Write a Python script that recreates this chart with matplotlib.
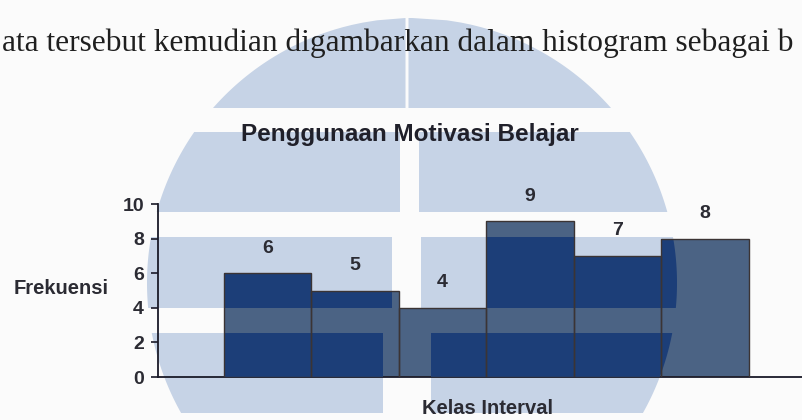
import numpy as np
import matplotlib
matplotlib.use("Agg")
import matplotlib.pyplot as plt
from matplotlib.path import Path
from matplotlib.patches import PathPatch
from matplotlib.transforms import Affine2D

# data
freq = [6, 5, 4, 9, 7, 8]
pos = list(range(len(freq)))
yticks = [0, 2, 4, 6, 8, 10]

W, H = 803, 420
fig = plt.figure(figsize=(W / 100, H / 100), dpi=100)
fig.patch.set_facecolor("#fbfbfb")

# pixel coords, y pointing down
pix = Affine2D().scale(1 / W, -1 / H).translate(0, 1) + fig.transFigure

# watermark (logo in the scanned page): circle cut by white bands
cx, cy, r = 412, 283, 265
segs = [(18, 108, 405.5, 408.5), (132, 212, 400, 419),
        (237, 308, 392, 421), (333, 413, 383, 431)]
polys = []
for y0, y1, gl, gr in segs:
    ys = np.linspace(y0, y1, 40)
    dx = np.sqrt(np.clip(r ** 2 - (ys - cy) ** 2, 0, None))
    xl = np.minimum(cx - dx, gl)
    xr = np.maximum(cx + dx, gr)
    left = list(zip(xl, ys)) + [(gl, y1), (gl, y0), (xl[0], y0)]
    right = list(zip(xr, ys)) + [(gr, y1), (gr, y0), (xr[0], y0)]
    polys.append(Path(left, closed=True))
    polys.append(Path(right, closed=True))
logo = Path.make_compound_path(*polys)

bg = PathPatch(logo, transform=pix, facecolor="#c6d3e6", edgecolor="none", zorder=-5)
fig.add_artist(bg)

# paragraph line from the page (cut at the right edge in the scan)
fig.text(0.002, 1 - 51 / H, "ata tersebut kemudian digambarkan dalam histogram sebagai b",
         family="Liberation Serif", fontsize=22.6, color="#1f1f1f", va="baseline", ha="left")

ax = fig.add_axes([158 / W, 43 / H, 645 / W, 173 / H])
ax.set_facecolor("none")
ax.set_zorder(1)

bars = ax.bar(pos, freq, width=1.0, color="#4b6384", edgecolor="none", zorder=2)
for b in bars:
    ov = PathPatch(logo, transform=pix, facecolor="#1c3e78", edgecolor="none", zorder=3)
    ax.add_artist(ov)
    ov.set_clip_path(b)
ax.bar(pos, freq, width=1.0, fill=False, edgecolor="#3b3434", linewidth=1.0, zorder=4)

for x, v in zip(pos, freq):
    ax.annotate(str(v), (x, v), xytext=(0, 18), textcoords="offset points",
                ha="center", va="center", fontsize=14, fontweight="bold",
                family="Liberation Sans", color="#2b2b33")

ax.set_xlim(-1.25, 6.12)
ax.set_ylim(0, 10)
ax.set_yticks(yticks)
ax.set_xticks([])
for s in ["top", "right"]:
    ax.spines[s].set_visible(False)
ax.spines["left"].set_color("#1a1a28")
ax.spines["left"].set_linewidth(1.3)
ax.spines["bottom"].set_color("#1a1a28")
ax.spines["bottom"].set_linewidth(1.3)
ax.tick_params(axis="y", direction="out", length=5, width=1.2, color="#1a1a28", pad=5)
for lab in ax.get_yticklabels():
    lab.set_fontsize(14)
    lab.set_fontweight("bold")
    lab.set_family("Liberation Sans")
    lab.set_color("#2b2b33")

fig.text(410 / W, 1 - 135 / H, "Penggunaan Motivasi Belajar", ha="center", va="center",
         fontsize=17.5, fontweight="bold", family="Liberation Sans", color="#20202a")
fig.text(61 / W, 1 - 288 / H, "Frekuensi", ha="center", va="center",
         fontsize=14.5, fontweight="bold", family="Liberation Sans", color="#2b2b33")
fig.text(488 / W, 1 - 409 / H, "Kelas Interval", ha="center", va="center",
         fontsize=14.5, fontweight="bold", family="Liberation Sans", color="#2b2b33")

fig.savefig("out.png", dpi=100, facecolor=fig.get_facecolor())
